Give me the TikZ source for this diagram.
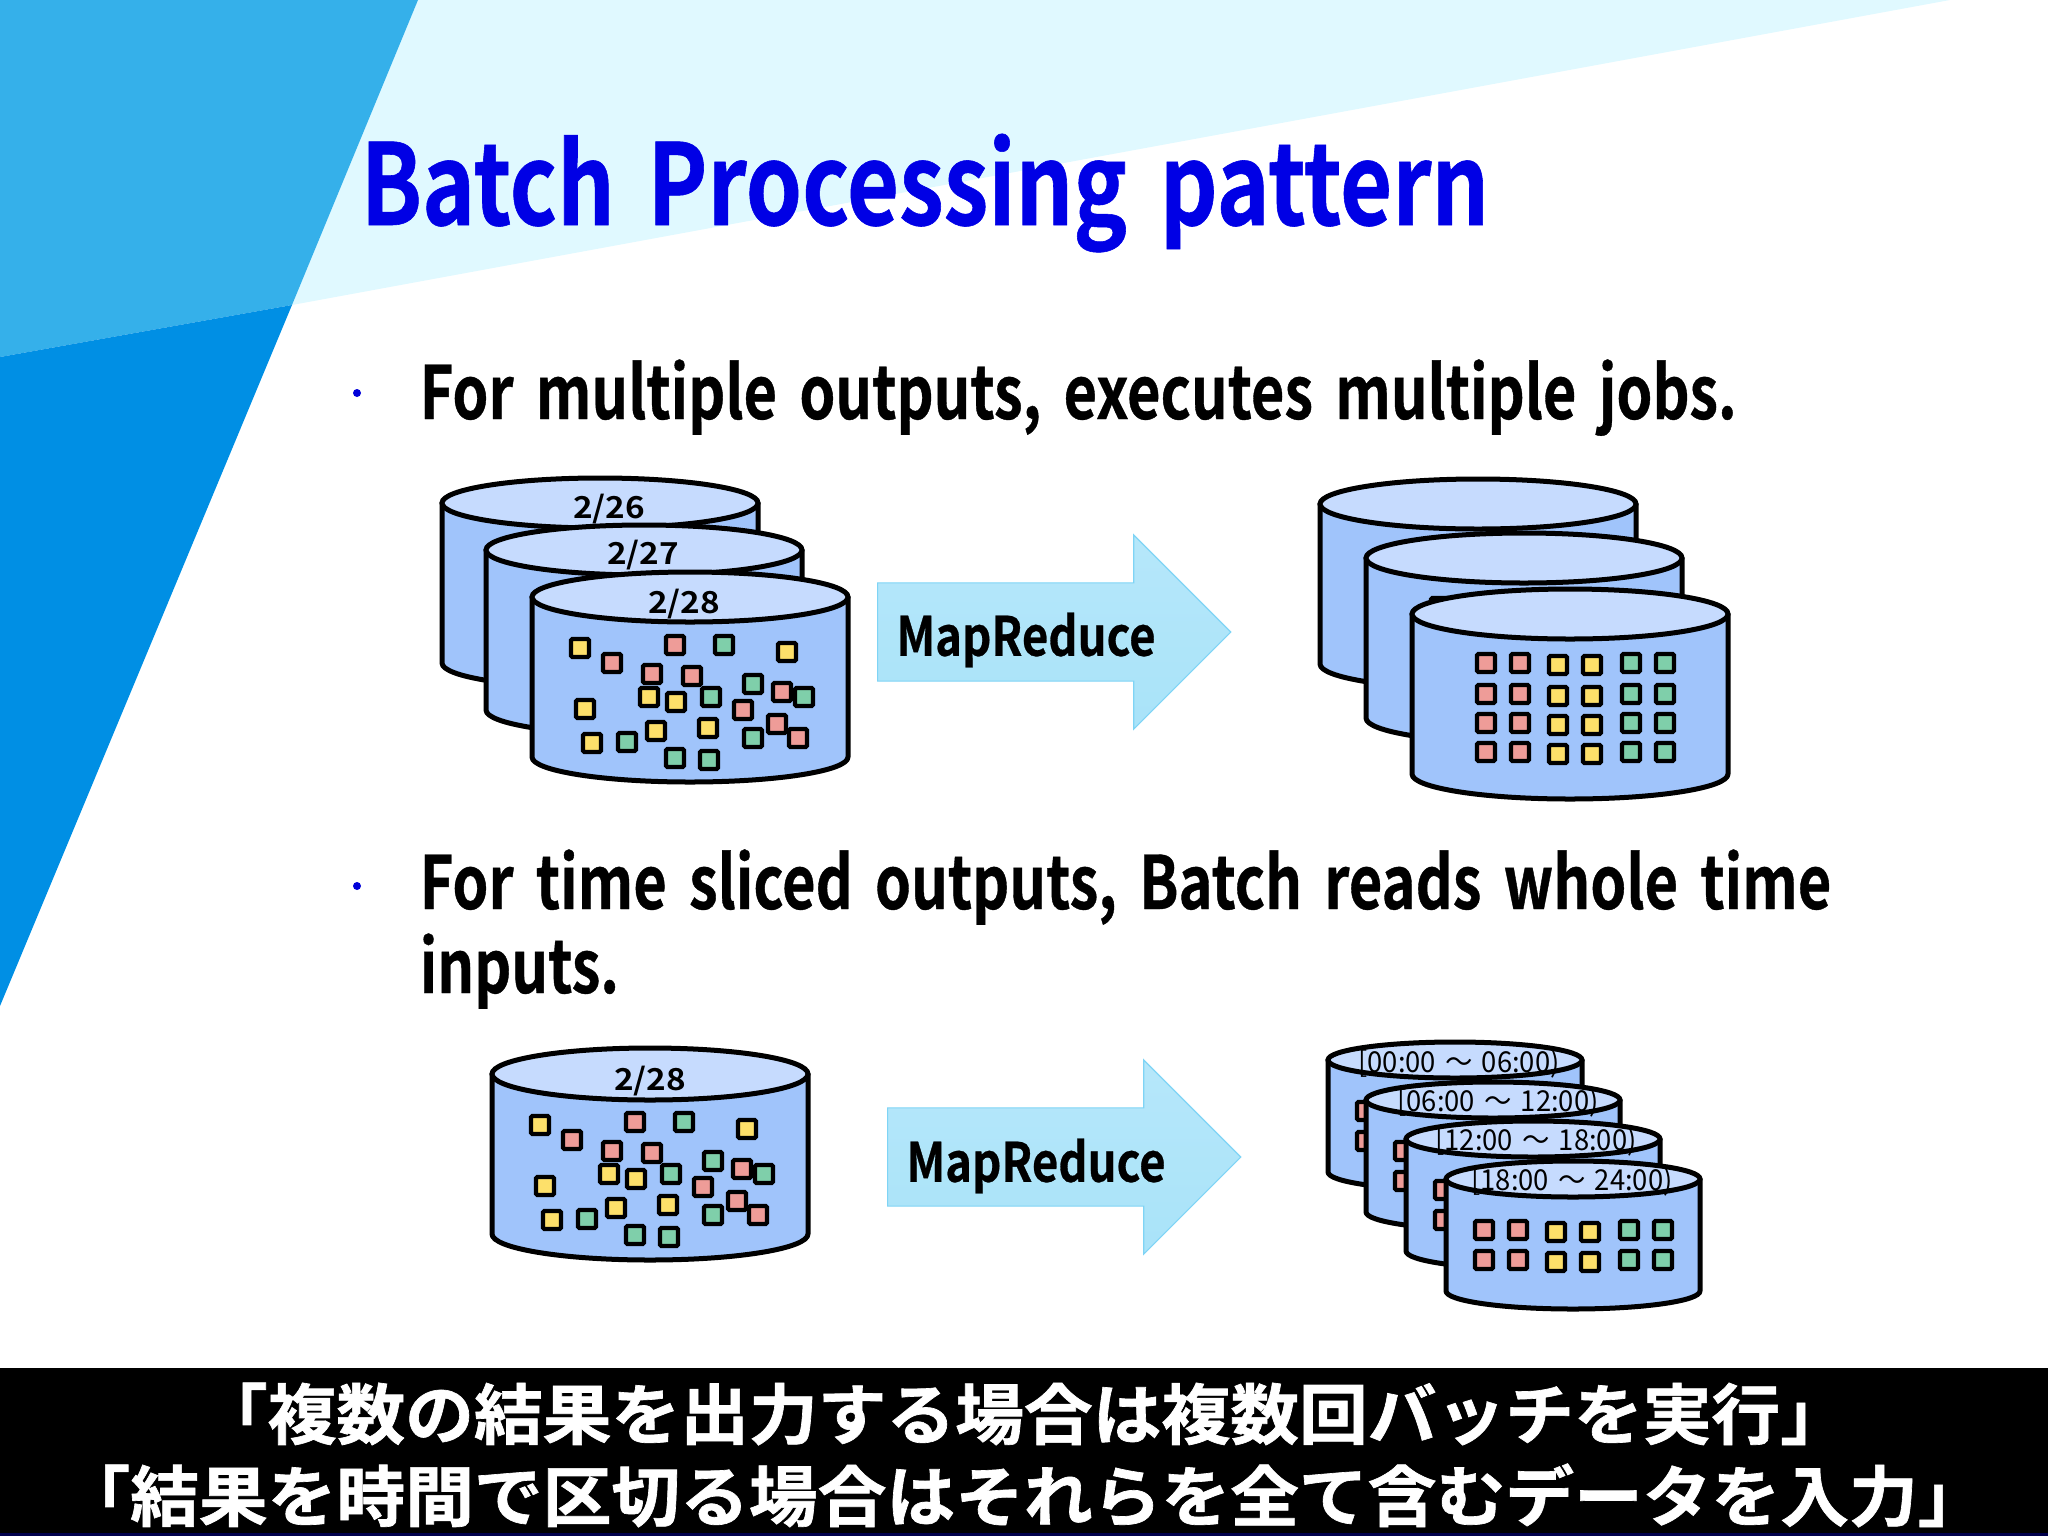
\documentclass[tikz,border=0pt]{standalone}
\usepackage{fontspec}
\usetikzlibrary{positioning}
\usetikzlibrary{shapes.arrows}
\setmainfont{Noto Sans CJK JP}
\newfontfamily\titlefont[FakeStretch=0.80,WordSpace=1.6,FakeBold=0.5]{Noto Sans CJK JP Bold}
\newfontfamily\bodyfont[FakeStretch=0.785,WordSpace=1.7,FakeBold=0.5]{Noto Sans CJK JP Bold}
\newfontfamily\mrfont[FakeStretch=0.84,FakeBold=0.5]{Noto Sans CJK JP Bold}
\newfontfamily\bandfont[FakeStretch=1.04,FakeBold=1]{Noto Sans CJK JP Bold}
\newfontfamily\datefont[FakeStretch=1.1]{Noto Sans CJK JP Bold}
\newfontfamily\slicefont[FakeStretch=0.95,WordSpace=1.5]{Noto Sans CJK JP}
\definecolor{skyblue}{HTML}{35B0EA}
\definecolor{deepblue}{HTML}{008FE4}
\definecolor{paleblue}{HTML}{E0F9FF}
\definecolor{drumbody}{HTML}{A0C4FB}
\definecolor{drumlid}{HTML}{C6DBFE}
\definecolor{arrowfill}{HTML}{A9E3F9}
\definecolor{arrowline}{HTML}{7FD4F5}
\definecolor{sqpink}{HTML}{EE9C98}
\definecolor{sqyellow}{HTML}{FDE06A}
\definecolor{sqgreen}{HTML}{7FCFAA}
\tikzset{
  line/.style={anchor=base west,inner sep=0,text=black,font=\fontsize{20.9pt}{25pt}\bodyfont},
  dot/.style={circle,fill=blue!85!black,inner sep=0,minimum size=0.08cm},
  side/.style={draw=black,line width=0.05cm,fill=drumbody,line join=round},
  lid/.style={draw=black,line width=0.05cm,fill=drumlid},
  date/.style={inner sep=0,font=\fontsize{8.6pt}{10pt}\datefont},
  slice/.style={inner sep=0,font=\fontsize{8.2pt}{10pt}\slicefont},
  sq/.style={draw=black,line width=0.042cm,minimum size=0.18cm,inner sep=0,rounded corners=0.4pt},
  mr/.style={single arrow,draw=arrowline,line width=0.012cm,top color=arrowfill!85!white,bottom color=arrowfill,
    minimum height=3.53cm,single arrow head extend=0.48cm,single arrow tip angle=90,inner xsep=0,inner ysep=0.485cm,anchor=west},
  mrtext/.style={inner sep=0,font=\fontsize{15.4pt}{18pt}\mrfont}
}
% name, x, y, x radius, y radius, height
\newcommand{\drum}[6]{
  \draw[side] (#2-#4,#3) -- ++(0,#6) arc[start angle=180,end angle=0,x radius=#4,y radius=#5] -- (#2+#4,#3) -- cycle;
  \draw[lid] (#2,#3) ellipse[x radius=#4,y radius=#5];
  \coordinate (#1) at (#2,#3);
}
% six columns of little squares, two colours per pair
\newcommand{\grid}[4]{
  \begin{scope}[shift={(#1)}]
    \foreach \r [count=\j] in {#4} {
      \foreach \c/\col/\dy [count=\i] in #2 {
        \node[sq,fill=\col] (#3-\j-\i) at (\c,\r+\dy) {};
      }
    }
  \end{scope}
}
\newcommand{\scatter}[2]{
  \begin{scope}[shift={(#1)}]
    \foreach \c/\r [count=\i] in {-110/51,97/55,-41/100,-14/105,-105/112,-34/134,18/131,-98/146}
      \node[sq,fill=sqyellow] (#2-y\i) at (\c,\r) {};
    \foreach \c/\r [count=\i] in {-15/48,-78/66,-38/77,2/79,92/95,53/113,87/127,108/141}
      \node[sq,fill=sqpink] (#2-p\i) at (\c,\r) {};
    \foreach \c/\r [count=\i] in {34/48,63/87,21/100,114/100,-63/145,63/141,-15/161,19/163}
      \node[sq,fill=sqgreen] (#2-g\i) at (\c,\r) {};
  \end{scope}
}
\begin{document}
\begin{tikzpicture}[x=0.01cm,y=-0.01cm]
  \useasboundingbox (0,0) rectangle (2048,1536);
  % background
  \fill[paleblue] (418,0) -- (1950,0) -- (292,305) -- cycle;
  \fill[skyblue] (0,0) -- (418,0) -- (292,305) -- (0,357) -- cycle;
  \fill[deepblue] (0,357) -- (292,305) -- (0,1006) -- cycle;

  \node[anchor=base west,inner sep=0,text=blue!90!black,font=\fontsize{32pt}{38pt}\titlefont] (title) at (360,225) {Batch Processing pattern};

  \node[dot] (dot_1) at (357,393) {};
  \node[line] (multi) at (419,419) {For multiple outputs, executes multiple jobs.};
  \node[dot] (dot_2) at (357,886) {};
  \node[line] (sliced) at (419,909) {For time sliced outputs, Batch reads whole time};
  \node[line] (inputs) at (419,993) {inputs.};

  % first row, input
  \drum{in_a}{600}{503}{158}{25}{160}
  \node[date] (d_26) at (609,509) {2/26};
  \drum{in_b}{644}{550}{158}{25}{160}
  \node[date] (d_27) at (643,555) {2/27};
  \drum{in_c}{690}{597}{158}{25}{160}
  \node[date] (d_28) at (684,604) {2/28};
  \scatter{in_c}{a}

  \node[mr] (arrow_1) at (877,632) {};
  \node[mrtext] (mr_1) at (1026,640) {MapReduce};

  % first row, output
  \def\colsa{-84/sqpink/0,-50/sqpink/0,-12/sqyellow/2,22/sqyellow/2,61/sqgreen/0,95/sqgreen/0}
  \drum{out_a}{1478}{504}{158}{25}{160}
  \drum{out_b}{1524}{558}{158}{25}{160}
  \grid{out_b}{\colsa}{b}{49,80,109,138}
  \drum{out_c}{1570}{614}{158}{25}{160}
  \grid{out_c}{\colsa}{c}{49,80,109,138}

  % second row, input
  \drum{one}{650}{1074}{158}{26}{160}
  \node[date] (d_one) at (650,1081) {2/28};
  \scatter{one}{e}

  \node[mr] (arrow_2) at (887,1157) {};
  \node[mrtext] (mr_2) at (1036,1166) {MapReduce};

  % second row, output
  \def\colsb{-89/sqpink/0,-55/sqpink/0,-17/sqyellow/2,17/sqyellow/2,56/sqgreen/0,90/sqgreen/0}
  \drum{t_a}{1455}{1060}{127}{18}{112}
  \grid{t_a}{\colsb}{f}{51,81}
  \node[slice] (s_1) at (1459,1064) {[00:00 ～ 06:00)};
  \drum{t_b}{1493}{1100}{127}{18}{112}
  \grid{t_b}{\colsb}{h}{51,81}
  \node[slice] (s_2) at (1498,1103) {[06:00 ～ 12:00)};
  \drum{t_c}{1533}{1139}{127}{18}{112}
  \grid{t_c}{\colsb}{k}{51,81}
  \node[slice] (s_3) at (1536,1142) {[12:00 ～ 18:00)};
  \drum{t_d}{1573}{1179}{127}{18}{112}
  \grid{t_d}{\colsb}{m}{51,81}
  \node[slice] (s_4) at (1572,1182) {[18:00 ～ 24:00)};

  % caption band
  \fill[black] (0,1368) rectangle (2048,1533);
  \fill[black!70!blue] (0,1533) rectangle (2048,1536);
  \node[anchor=base,inner sep=0,text=white,font=\fontsize{18.8pt}{22pt}\bandfont] (band_1) at (1024,1439) {「複数の結果を出力する場合は複数回バッチを実行」};
  \node[anchor=base,inner sep=0,text=white,font=\fontsize{18.8pt}{22pt}\bandfont] (band_2) at (1024,1521) {「結果を時間で区切る場合はそれらを全て含むデータを入力」};
\end{tikzpicture}
\end{document}
